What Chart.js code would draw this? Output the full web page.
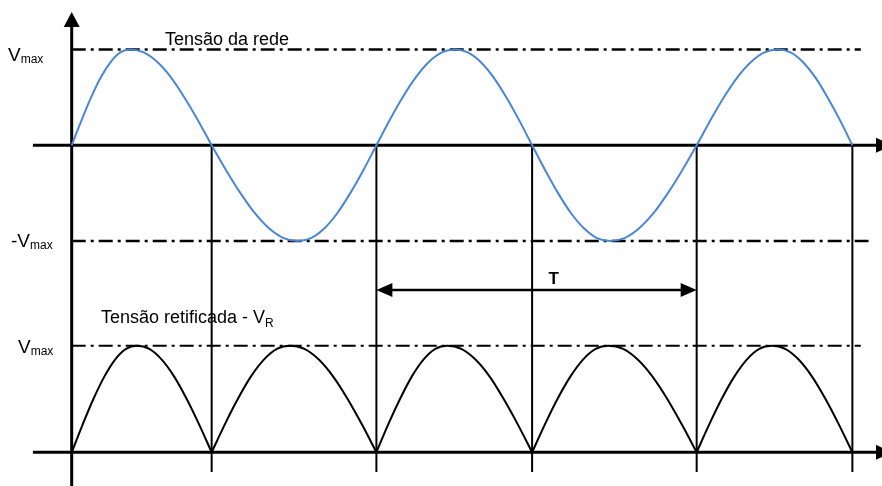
<!DOCTYPE html>
<html>
<head>
<meta charset="utf-8">
<script src="https://cdn.jsdelivr.net/npm/chart.js@4.4.1/dist/chart.umd.min.js"></script>
<style>
  html, body { margin: 0; padding: 0; background: #fff; }
  canvas { display: block; }
</style>
</head>
<body>
<canvas id="c" width="882" height="486"></canvas>
<script>
// ---- data (time in ms, voltage in units of Vmax) ----
const zeroCrossings = [0, 7.29, 15.87, 23.98, 32.55, 40.66];

// Tensão da rede (mains voltage)
const redeTime = [
  0, 0.51, 1.01, 1.52, 2.03, 2.53, 3.04, 3.75, 4.46, 5.17, 5.87, 6.58,
  7.29, 8.04, 8.79, 9.54, 10.29, 11.04, 11.79, 12.47, 13.15, 13.83, 14.51, 15.19,
  15.87, 16.55, 17.23, 17.92, 18.60, 19.28, 19.96, 20.63, 21.30, 21.97, 22.64, 23.31,
  23.98, 24.66, 25.33, 26.01, 26.69, 27.36, 28.04, 28.79, 29.54, 30.30, 31.05, 31.80,
  32.55, 33.26, 33.96, 34.67, 35.38, 36.08, 36.79, 37.44, 38.08, 38.73, 39.37, 40.02,
  40.66];
const redeVolt = [
  0, 0.26, 0.5, 0.71, 0.87, 0.97, 1, 0.97, 0.87, 0.71, 0.5, 0.26,
  0, -0.26, -0.5, -0.71, -0.87, -0.97, -1, -0.97, -0.87, -0.71, -0.5, -0.26,
  0, 0.26, 0.5, 0.71, 0.87, 0.97, 1, 0.97, 0.87, 0.71, 0.5, 0.26,
  0, -0.26, -0.5, -0.71, -0.87, -0.97, -1, -0.97, -0.87, -0.71, -0.5, -0.26,
  0, 0.26, 0.5, 0.71, 0.87, 0.97, 1, 0.97, 0.87, 0.71, 0.5, 0.26,
  0];

// Tensão retificada - VR (null = cusp break between half waves)
const retTime = [
  0, 0.57, 1.13, 1.70, 2.26, 2.83, 3.39, 4.04, 4.69, 5.34, 5.99, 6.64, 7.29, 7.29,
  7.29, 7.97, 8.65, 9.33, 10.01, 10.69, 11.37, 12.12, 12.87, 13.62, 14.37, 15.12, 15.87, 15.87,
  15.87, 16.48, 17.10, 17.71, 18.32, 18.94, 19.55, 20.29, 21.03, 21.77, 22.50, 23.24, 23.98, 23.98,
  23.98, 24.64, 25.30, 25.97, 26.63, 27.29, 27.95, 28.72, 29.48, 30.25, 31.02, 31.78, 32.55, 32.55,
  32.55, 33.20, 33.85, 34.51, 35.16, 35.81, 36.46, 37.16, 37.86, 38.56, 39.26, 39.96, 40.66];
const retVolt = [
  0, 0.26, 0.5, 0.71, 0.87, 0.97, 1, 0.97, 0.87, 0.71, 0.5, 0.26, 0, null,
  0, 0.26, 0.5, 0.71, 0.87, 0.97, 1, 0.97, 0.87, 0.71, 0.5, 0.26, 0, null,
  0, 0.26, 0.5, 0.71, 0.87, 0.97, 1, 0.97, 0.87, 0.71, 0.5, 0.26, 0, null,
  0, 0.26, 0.5, 0.71, 0.87, 0.97, 1, 0.97, 0.87, 0.71, 0.5, 0.26, 0, null,
  0, 0.26, 0.5, 0.71, 0.87, 0.97, 1, 0.97, 0.87, 0.71, 0.5, 0.26, 0];

// reference levels (dash-dot lines) and their extent in time
const levelTop = 1, levelBottom = -1, levelRet = 1;
const levelSpan = [0, 41.1];
// period marker T
const periodStart = zeroCrossings[2], periodEnd = zeroCrossings[4];
const periodLevel = -1.512;

const pts = (xs, ys) => xs.map((t, i) => ({ x: t, y: ys[i] }));
const FONT = "'Liberation Sans', Arial, sans-serif";

const overlay = {
  id: 'overlay',
  beforeDatasetsDraw(chart) {
    const { ctx, chartArea: a, scales } = chart;
    const X = v => scales.x.getPixelForValue(v);
    const Y = v => scales.y.getPixelForValue(v);
    const YR = v => scales.yR.getPixelForValue(v);
    const line = (x1, y1, x2, y2) => { ctx.beginPath(); ctx.moveTo(x1, y1); ctx.lineTo(x2, y2); ctx.stroke(); };
    const tri = (p) => { ctx.beginPath(); ctx.moveTo(p[0], p[1]); ctx.lineTo(p[2], p[3]); ctx.lineTo(p[4], p[5]); ctx.closePath(); ctx.fill(); };
    ctx.save();
    ctx.strokeStyle = '#000'; ctx.fillStyle = '#000';
    // drop lines at zero crossings
    ctx.lineWidth = 2;
    zeroCrossings.slice(1).forEach(t => line(X(t), Y(0), X(t), YR(-0.185)));
    // horizontal axes with arrows
    ctx.lineWidth = 3;
    [Y(0), YR(0)].forEach(yy => {
      line(X(-2.02), yy, a.right - 4, yy);
      tri([a.right - 6, yy - 7.5, a.right - 6, yy + 7.5, a.right + 10, yy]);
    });
    // vertical axis with arrow
    const tipY = Y(1.393);
    line(X(0), a.bottom, X(0), tipY + 12);
    tri([X(0) - 8, tipY + 15, X(0) + 8, tipY + 15, X(0), tipY]);
    // period arrow T
    ctx.lineWidth = 2.5;
    const py = Y(periodLevel), x1 = X(periodStart), x2 = X(periodEnd);
    line(x1 + 8, py, x2 - 8, py);
    tri([x1, py, x1 + 16, py - 7, x1 + 16, py + 7]);
    tri([x2, py, x2 - 16, py - 7, x2 - 16, py + 7]);
    ctx.restore();
  },
  afterDatasetsDraw(chart) {
    const { ctx, scales } = chart;
    const X = v => scales.x.getPixelForValue(v);
    const Y = v => scales.y.getPixelForValue(v);
    const YR = v => scales.yR.getPixelForValue(v);
    ctx.save();
    ctx.fillStyle = '#000';
    ctx.textBaseline = 'alphabetic';
    ctx.textAlign = 'left';
    const vlabel = (x, base, prefix) => {
      ctx.font = '19px ' + FONT;
      const main = prefix + 'V';
      ctx.fillText(main, x, base);
      const w = ctx.measureText(main).width;
      ctx.font = '12px ' + FONT;
      ctx.fillText('max', x + w, base + 2);
    };
    vlabel(8, Y(levelTop) + 11, '');
    vlabel(11, Y(levelBottom) + 6, '-');
    vlabel(18, YR(levelRet) + 7, '');
    ctx.font = '18px ' + FONT;
    ctx.fillText('Tensão da rede', 165, Y(levelTop) - 5);
    const s = 'Tensão retificada - V';
    ctx.fillText(s, 101, 323);
    const w = ctx.measureText(s).width;
    ctx.font = '12px ' + FONT;
    ctx.fillText('R', 101 + w, 327);
    ctx.font = 'bold 17px ' + FONT;
    ctx.textAlign = 'center';
    ctx.fillText('T', X(25.1), Y(periodLevel) - 6);
    ctx.restore();
  }
};

const dashStyle = { borderColor: '#000', pointRadius: 0, fill: false, borderDash: [14, 5, 3, 5] };

new Chart(document.getElementById('c'), {
  type: 'line',
  data: {
    datasets: [
      { label: 'Tensão da rede', data: pts(redeTime, redeVolt), yAxisID: 'y',
        borderColor: '#4a86d4', borderWidth: 2, pointRadius: 0, fill: false,
        cubicInterpolationMode: 'monotone' },
      { label: 'Tensão retificada - VR', data: pts(retTime, retVolt), yAxisID: 'yR',
        borderColor: '#000', borderWidth: 2, pointRadius: 0, fill: false,
        cubicInterpolationMode: 'monotone', spanGaps: false },
      Object.assign({ label: 'Vmax', yAxisID: 'y', borderWidth: 2.5,
        data: [{ x: levelSpan[0], y: levelTop }, { x: levelSpan[1], y: levelTop }] }, dashStyle),
      Object.assign({ label: '-Vmax', yAxisID: 'y', borderWidth: 2.5,
        data: [{ x: levelSpan[0], y: levelBottom }, { x: levelSpan[1] + 0.4, y: levelBottom }] }, dashStyle),
      Object.assign({ label: 'Vmax R', yAxisID: 'yR', borderWidth: 2,
        data: [{ x: levelSpan[0], y: levelRet }, { x: levelSpan[1], y: levelRet }] }, dashStyle)
    ]
  },
  options: {
    responsive: false,
    devicePixelRatio: 1,
    animation: false,
    events: [],
    layout: { padding: 0, autoPadding: false },
    plugins: { legend: { display: false }, tooltip: { enabled: false }, title: { display: false } },
    scales: {
      x: { type: 'linear', min: -3.734, max: 42.203, display: false },
      y: { type: 'linear', min: -3.560, max: 1.518, display: false },
      yR: { type: 'linear', min: -0.316, max: 4.243, display: false }
    }
  },
  plugins: [overlay]
});
</script>
</body>
</html>
